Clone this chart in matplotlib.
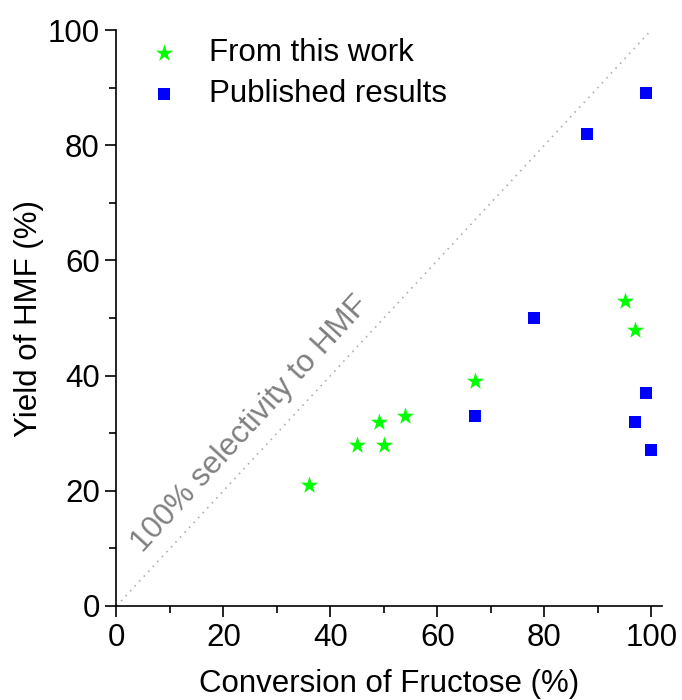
import matplotlib
matplotlib.use("Agg")
import matplotlib.pyplot as plt
from matplotlib.ticker import MultipleLocator

plt.rcParams['font.family'] = ['Liberation Sans', 'DejaVu Sans']

work_x = [36, 45, 49, 50, 54, 67, 95, 97]
work_y = [21, 28, 32, 28, 33, 39, 53, 48]
pub_x = [88, 99, 78, 67, 99, 97, 100]
pub_y = [82, 89, 50, 33, 37, 32, 27]

FS = 22.5

fig = plt.figure(figsize=(6.82, 7.0), dpi=100)
ax = fig.add_axes([0.1708, 0.1343, 0.7999, 0.8228])

ax.plot([0, 102], [0, 102], linestyle=(0, (1, 3)), color='#b0b0b0', lw=1.2, zorder=1)
ax.scatter(work_x, work_y, marker='*', s=170, color='#00ff00', label='From this work', zorder=3, linewidths=0)
ax.scatter(pub_x, pub_y, marker='s', s=85, color='#0000ff', label='Published results', zorder=3, linewidths=0)

ax.set_xlim(0, 102)
ax.set_ylim(0, 100)
ax.spines['top'].set_visible(False)
ax.spines['right'].set_visible(False)
for s in ['left', 'bottom']:
    ax.spines[s].set_linewidth(1.2)
ax.xaxis.set_major_locator(MultipleLocator(20))
ax.xaxis.set_minor_locator(MultipleLocator(10))
ax.yaxis.set_major_locator(MultipleLocator(20))
ax.yaxis.set_minor_locator(MultipleLocator(10))
ax.tick_params(which='major', direction='out', length=8, width=1.2, labelsize=FS, pad=4)
ax.tick_params(which='minor', direction='out', length=5, width=1.2)

ax.set_xlabel('Conversion of Fructose (%)', fontsize=FS, labelpad=12)
ax.set_ylabel('Yield of HMF (%)', fontsize=FS, labelpad=3)

ax.text(25, 31.5, '100% selectivity to HMF', rotation=47.5, rotation_mode='anchor',
        ha='center', va='center', color='#808080', fontsize=FS)

leg = ax.legend(loc='upper left', bbox_to_anchor=(-0.005, 1.018), frameon=False, fontsize=FS,
                handletextpad=0.45, borderaxespad=0.2, labelspacing=0.35, scatterpoints=1)

fig.savefig('out.png', dpi=100)
